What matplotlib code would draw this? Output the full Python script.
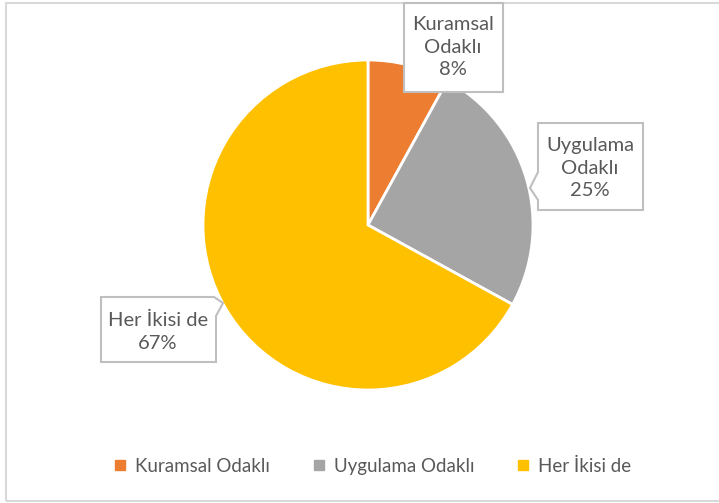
import matplotlib
matplotlib.use("Agg")
import matplotlib.pyplot as plt
from matplotlib.patches import Polygon, Rectangle
from matplotlib.lines import Line2D

categories = ["Kuramsal Odaklı", "Uygulama Odaklı", "Her İkisi de"]
values = [8, 25, 67]
label_texts = ["Kuramsal\nOdaklı", "Uygulama\nOdaklı", "Her İkisi de"]
colors = ["#ED7D31", "#A5A5A5", "#FFC000"]

plt.rcParams['font.family'] = ['Lato', 'DejaVu Sans']
TXT = "#595959"

W, H = 719, 503
fig = plt.figure(figsize=(W / 100, H / 100), dpi=100)
ax = fig.add_axes([0, 0, 1, 1])

def Y(y):
    return H - y

wedges, _ = ax.pie(values, colors=colors, startangle=90, counterclock=False,
                   center=(368, Y(225)), radius=165,
                   wedgeprops=dict(edgecolor="white", linewidth=2))

ax.set_xlim(0, W)
ax.set_ylim(0, H)
ax.set_aspect('equal')
ax.axis('off')

# outer chart border
ax.add_patch(Rectangle((6, Y(501)), 720, 498, fill=False, edgecolor="#D9D9D9", linewidth=1.5))

# callout boxes (pixel positions)
boxes = [
    [(404, 3), (503, 3), (503, 92), (404, 92)],
    [(538, 123), (643, 123), (643, 210), (538, 210), (538, 200), (530, 188), (538, 172)],
    [(101, 297), (214, 297), (223, 303), (216, 316), (216, 362), (101, 362)],
]
centers = [(453, 47), (590, 168), (158, 332)]
for poly, (cx, cy), lab, val in zip(boxes, centers, label_texts, values):
    pts = [(x, Y(y)) for x, y in poly]
    ax.add_patch(Polygon(pts, closed=True, facecolor="white", edgecolor="#BFBFBF",
                         linewidth=1.5, zorder=5))
    ax.text(cx, Y(cy), f"{lab}\n{val}%", ha='center', va='center', fontsize=14.5,
            color=TXT, linespacing=1.38, zorder=6)

handles = [Line2D([0], [0], marker='s', linestyle='none', markersize=6.5,
                  markerfacecolor=c, markeredgecolor=c) for c in colors]
fig.legend(handles, categories, loc='center', bbox_to_anchor=(373 / W, 1 - 466 / H),
           ncol=3, frameon=False, fontsize=13.5, labelcolor=TXT,
           handlelength=0.6, handletextpad=0.5, columnspacing=2.3)

fig.savefig("out.png", dpi=100)
